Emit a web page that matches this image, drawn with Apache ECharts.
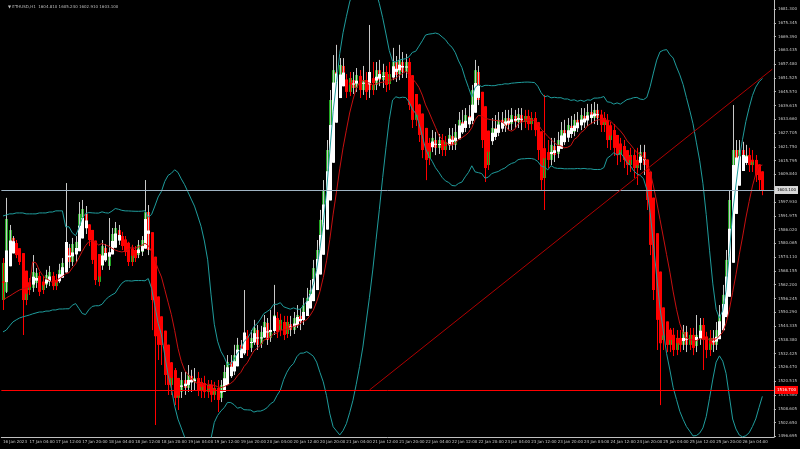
<!DOCTYPE html>
<html><head><meta charset="utf-8">
<script src="https://cdn.jsdelivr.net/npm/echarts@6/dist/echarts.min.js"></script>
<style>html,body{margin:0;padding:0;background:#000}#c{width:800px;height:449px}</style>
</head><body><div id="c"></div>
<script>
const opens=[1555.6,1559.1,1576.3,1582.4,1580.2,1575.0,1572.9,1555.6,1559.9,1560.8,
1562.9,1566.0,1559.9,1562.1,1563.4,1566.0,1561.6,1564.2,1567.7,1569.4,
1578.1,1572.0,1576.3,1580.7,1585.8,1592.8,1585.8,1580.2,1575.0,1563.4,
1570.3,1578.1,1570.3,1577.2,1581.5,1585.8,1583.2,1581.5,1578.9,1572.0,
1577.2,1575.0,1576.3,1581.5,1593.6,1577.2,1555.6,1542.6,1536.2,1538.3,
1523.2,1518.9,1524.5,1513.3,1515.9,1521.0,1517.6,1522.8,1520.2,1521.9,
1516.7,1519.7,1515.9,1518.9,1514.6,1517.6,1513.3,1518.4,1523.6,1528.8,
1525.4,1531.4,1536.2,1534.0,1540.0,1534.9,1538.3,1542.6,1536.6,1540.9,
1545.7,1539.2,1542.6,1547.8,1542.6,1546.1,1540.9,1545.2,1542.6,1547.0,
1548.7,1547.0,1553.0,1555.6,1559.1,1568.6,1576.3,1589.3,1601.0,1619.5,
1642.0,1654.1,1648.5,1656.7,1650.6,1645.5,1650.6,1647.2,1652.4,1646.3,
1650.6,1652.8,1646.3,1648.5,1654.9,1650.6,1654.1,1648.9,1652.8,1658.4,
1653.2,1658.4,1654.1,1658.4,1639.8,1633.4,1637.7,1626.9,1620.4,1616.9,
1622.1,1624.7,1621.3,1624.7,1620.4,1623.9,1626.4,1622.6,1628.2,1632.5,
1629.9,1635.1,1633.4,1646.3,1654.1,1642.0,1624.7,1613.9,1624.7,1629.9,
1629.0,1633.4,1630.8,1634.2,1631.6,1635.1,1632.5,1635.5,1632.5,1635.1,
1631.6,1634.2,1629.0,1620.4,1608.3,1619.5,1616.1,1622.1,1618.7,1623.9,
1629.0,1626.4,1630.8,1628.2,1633.4,1631.2,1635.1,1633.4,1636.8,1634.2,
1637.7,1634.2,1631.2,1633.4,1624.7,1629.0,1621.3,1618.2,1622.1,1616.1,
1613.9,1618.2,1612.6,1616.1,1619.5,1613.9,1598.8,1579.4,1559.9,1547.8,
1538.3,1542.6,1536.2,1540.5,1534.0,1539.2,1536.2,1541.8,1536.2,1540.5,
1535.7,1540.5,1544.8,1538.3,1534.0,1539.2,1536.2,1542.6,1548.7,1557.3,
1572.9,1598.8,1620.4,1613.9,1620.4,1616.1,1618.2,1613.9,1616.1,1609.6,1607.4];
const closes=[1571.6,1590.6,1585.8,1580.2,1575.0,1572.0,1555.6,1559.9,1562.1,1567.7,
1567.3,1559.1,1563.4,1566.4,1567.7,1561.6,1564.2,1568.6,1571.6,1579.4,
1572.0,1579.8,1580.7,1592.8,1594.9,1586.7,1581.5,1572.9,1564.2,1567.7,
1578.9,1573.7,1575.0,1584.1,1586.7,1581.5,1578.9,1576.3,1572.0,1577.2,
1573.7,1579.4,1581.5,1593.6,1577.2,1555.6,1542.6,1536.2,1538.3,1523.2,
1518.9,1525.4,1513.3,1516.7,1521.0,1517.6,1523.2,1520.2,1521.9,1516.7,
1520.2,1515.9,1518.9,1514.6,1517.6,1512.4,1518.9,1524.5,1528.8,1524.5,
1531.8,1536.2,1533.1,1540.5,1534.0,1539.2,1543.5,1536.2,1541.8,1546.1,
1538.3,1542.6,1549.1,1541.8,1547.0,1540.5,1546.1,1542.6,1547.8,1549.1,
1546.1,1553.4,1556.5,1559.9,1569.4,1577.2,1590.2,1603.1,1620.4,1642.0,
1654.9,1648.5,1657.1,1650.6,1645.5,1651.5,1647.2,1652.8,1646.3,1650.6,
1645.5,1646.3,1648.5,1654.9,1650.6,1654.1,1648.5,1653.2,1658.4,1652.8,
1659.3,1654.1,1658.4,1639.8,1633.4,1637.7,1626.9,1620.4,1616.1,1622.6,
1625.6,1621.3,1624.7,1620.4,1623.9,1626.9,1622.6,1628.2,1633.4,1629.9,
1635.5,1633.4,1646.3,1654.9,1642.0,1624.7,1612.6,1624.7,1629.9,1628.2,
1633.4,1630.8,1634.2,1631.2,1635.5,1632.5,1635.9,1632.5,1635.1,1631.6,
1634.2,1629.0,1620.4,1607.4,1620.4,1616.1,1622.6,1618.2,1624.7,1629.0,
1625.6,1631.2,1628.2,1633.4,1630.8,1635.5,1632.5,1636.8,1634.2,1637.7,
1634.2,1631.2,1633.4,1624.7,1629.0,1621.3,1618.2,1622.6,1616.1,1613.9,
1618.2,1612.6,1616.1,1619.5,1613.9,1598.8,1579.4,1559.9,1547.0,1538.3,
1542.6,1536.2,1540.5,1534.0,1539.2,1536.2,1541.8,1536.2,1540.5,1534.9,
1540.5,1544.8,1538.3,1534.0,1539.2,1536.2,1542.6,1549.1,1557.8,1572.9,
1598.8,1620.4,1613.9,1620.4,1616.1,1618.2,1613.9,1616.1,1609.6,1607.4,1603.1];
const highs=[1573.7,1599.7,1588.0,1583.2,1581.5,1577.2,1573.7,1564.2,1565.1,1575.0,
1569.4,1567.7,1566.0,1568.6,1570.3,1567.7,1566.8,1571.2,1573.7,1606.1,
1579.8,1582.4,1583.2,1597.9,1598.8,1596.2,1587.6,1582.4,1577.2,1570.3,
1581.5,1579.8,1591.0,1586.7,1589.3,1588.0,1585.0,1583.2,1580.7,1579.4,
1578.9,1581.5,1583.2,1607.4,1596.6,1579.4,1559.9,1551.3,1542.6,1540.5,
1527.5,1528.8,1526.2,1518.9,1524.5,1524.5,1527.5,1525.4,1526.2,1524.5,
1521.9,1522.8,1521.0,1521.0,1520.2,1521.0,1521.0,1527.5,1531.8,1531.8,
1536.2,1539.2,1538.3,1559.9,1542.6,1542.6,1547.0,1544.8,1544.4,1549.1,
1547.8,1551.3,1562.1,1550.4,1549.6,1548.7,1548.7,1548.7,1550.4,1553.4,
1552.1,1556.5,1560.8,1564.2,1572.9,1581.5,1594.5,1607.4,1624.7,1646.3,
1661.4,1665.8,1660.1,1660.1,1653.2,1654.1,1654.1,1655.8,1654.9,1656.7,
1654.1,1674.4,1658.4,1658.4,1659.3,1657.6,1656.7,1658.4,1664.5,1661.0,
1665.8,1662.7,1661.9,1660.1,1642.9,1640.3,1640.3,1630.8,1623.9,1625.6,
1629.0,1628.2,1627.3,1627.3,1626.4,1629.9,1629.9,1631.6,1636.8,1637.7,
1638.5,1639.8,1648.5,1659.3,1656.7,1644.2,1629.0,1628.2,1634.2,1635.5,
1636.8,1636.8,1637.7,1637.7,1638.5,1637.7,1638.5,1638.5,1637.7,1637.7,
1636.8,1636.8,1632.5,1624.7,1644.2,1624.7,1625.6,1625.6,1628.2,1632.5,
1633.4,1634.2,1635.1,1635.9,1636.8,1638.5,1638.5,1640.3,1640.3,1641.1,
1640.3,1637.7,1636.8,1635.9,1632.5,1631.6,1624.7,1625.6,1624.7,1620.4,
1621.3,1620.4,1621.3,1622.6,1622.6,1616.1,1601.0,1581.5,1564.2,1551.3,
1546.1,1544.8,1543.5,1543.5,1542.6,1542.6,1544.8,1544.4,1543.5,1543.5,
1549.1,1547.8,1547.8,1541.8,1542.6,1542.6,1546.1,1553.4,1562.1,1577.2,
1603.1,1639.8,1624.7,1624.7,1623.9,1622.6,1621.3,1620.4,1618.2,1612.6,1610.9];
const lows=[1551.3,1558.6,1575.0,1578.1,1573.7,1570.7,1540.5,1553.4,1557.8,1559.1,
1560.8,1557.3,1558.2,1560.8,1561.6,1559.9,1559.9,1562.9,1566.0,1567.7,
1569.4,1570.3,1572.0,1579.4,1584.5,1584.1,1578.9,1571.2,1562.1,1561.6,
1568.6,1572.0,1568.6,1576.3,1579.8,1579.4,1577.2,1574.6,1570.3,1570.3,
1572.0,1573.7,1574.6,1579.8,1575.0,1542.6,1501.6,1529.7,1527.5,1518.9,
1514.6,1514.6,1510.2,1508.1,1513.3,1514.6,1515.9,1515.9,1516.7,1514.1,
1513.3,1513.3,1513.3,1511.5,1512.4,1507.2,1511.5,1516.7,1521.9,1521.9,
1523.2,1529.7,1530.5,1531.8,1531.4,1533.1,1536.2,1534.0,1534.9,1539.2,
1536.2,1537.5,1540.5,1539.2,1540.0,1538.3,1539.2,1540.0,1540.9,1543.5,
1542.6,1544.8,1550.4,1553.4,1557.3,1566.0,1573.7,1587.6,1598.8,1616.9,
1639.8,1645.5,1646.3,1648.0,1642.9,1643.7,1644.6,1645.5,1642.9,1644.2,
1642.0,1642.9,1644.2,1646.3,1648.0,1647.2,1645.5,1646.3,1650.6,1649.8,
1650.6,1651.5,1651.5,1637.7,1629.9,1630.8,1623.9,1616.9,1607.4,1613.9,
1619.5,1618.2,1618.7,1617.8,1617.8,1620.4,1620.4,1620.4,1625.6,1627.3,
1628.2,1629.9,1631.6,1636.8,1639.8,1621.3,1606.6,1611.8,1622.6,1624.7,
1626.4,1628.2,1628.2,1629.0,1629.0,1629.9,1629.9,1629.0,1629.9,1629.0,
1629.0,1626.4,1616.1,1603.1,1594.5,1612.6,1613.9,1615.2,1616.9,1621.3,
1622.6,1623.9,1625.6,1626.4,1628.2,1629.0,1629.9,1630.8,1631.6,1631.6,
1631.2,1628.2,1628.2,1621.3,1620.4,1617.8,1613.9,1615.2,1612.6,1609.6,
1610.9,1608.3,1605.3,1611.8,1609.6,1594.5,1575.0,1555.6,1534.0,1510.2,
1534.0,1533.1,1533.1,1531.4,1531.8,1533.1,1534.0,1533.1,1534.0,1531.8,
1533.1,1536.2,1525.4,1530.5,1531.4,1533.1,1534.0,1540.5,1547.0,1555.6,
1570.7,1596.6,1609.6,1611.8,1612.6,1613.9,1610.9,1610.9,1606.6,1603.1,1600.9];
// band / average values at the left edge (history before the first bar)
const upperLead=[1591.9,1592.3,1592.8,1592.8,1593.2,1593.2,1593.2,1592.8,1592.8,1592.8,1592.8,1593.2,1593.2,1593.2,1593.6,1593.6,1594.1,1594.1,1594.1];
const lowerLead=[1541.8,1542.6,1544.4,1546.1,1547.0,1547.8,1548.3,1548.7,1549.1,1549.6,1550.0,1550.4,1550.4,1550.8,1550.8,1551.3,1551.3,1551.7,1551.7];
const maLead=[1555.6,1556.5,1557.3,1558.2,1559.1,1559.9,1560.4,1560.8,1561.2];
const xTickLabels=['16 Jan 2023','17 Jan 04:00','17 Jan 12:00','17 Jan 20:00','18 Jan 04:00','18 Jan 12:00','18 Jan 20:00',
'19 Jan 04:00','19 Jan 12:00','19 Jan 20:00','20 Jan 04:00','20 Jan 12:00','20 Jan 20:00','21 Jan 04:00','21 Jan 12:00',
'21 Jan 20:00','22 Jan 04:00','22 Jan 12:00','22 Jan 20:00','23 Jan 04:00','23 Jan 12:00','23 Jan 20:00','24 Jan 04:00',
'24 Jan 12:00','24 Jan 20:00','25 Jan 04:00','25 Jan 12:00','25 Jan 20:00','26 Jan 04:00'];
const yTickValues=[1681.300,1675.345,1669.390,1663.435,1657.480,1651.525,1645.570,1639.615,1633.660,1627.705,
1621.750,1615.795,1609.840,1603.885,1597.930,1591.975,1586.020,1580.065,1574.110,1568.155,1562.200,1556.245,
1550.290,1544.335,1538.380,1532.425,1526.470,1520.515,1514.560,1508.605,1502.650,1496.695];
const supportLevel=1516.7;
const trendStart=[111,1516.7], trendEnd=[233,1655.3];
const headerText='\u25BC ETHUSD,H1  1604.810 1605.240 1602.910 1603.100';
const bbPeriod=20, bbDev=2, maPeriod=10;

const nCat=234;
const cats=[]; for(let i=0;i<nCat;i++) cats.push(String(i));
const candleData=opens.map((o,i)=>[i,o,closes[i],lows[i],highs[i]]);
// Heiken Ashi overlay derived from the candles
const haData=[]; let hO=(opens[0]+closes[0])/2, hC=(opens[0]+highs[0]+lows[0]+closes[0])/4;
for(let i=0;i<opens.length;i++){
  if(i>0){const nO=(hO+hC)/2; hC=(opens[i]+highs[i]+lows[i]+closes[i])/4; hO=nO;}
  haData.push([i,+hO.toFixed(2),+hC.toFixed(2),+Math.min(lows[i],hO,hC).toFixed(2),+Math.max(highs[i],hO,hC).toFixed(2)]);
}
const upper=[],lower=[],ma=[];
for(let i=0;i<closes.length;i++){
  if(i<bbPeriod-1){upper.push(upperLead[i]);lower.push(lowerLead[i]);}
  else{let s=0;for(let k=i-bbPeriod+1;k<=i;k++)s+=closes[k];const m=s/bbPeriod;let v=0;for(let k=i-bbPeriod+1;k<=i;k++)v+=(closes[k]-m)**2;const sd=Math.sqrt(v/bbPeriod);upper.push(+(m+bbDev*sd).toFixed(2));lower.push(+(m-bbDev*sd).toFixed(2));}
  if(i<maPeriod-1) ma.push(maLead[i]); else {let s=0;for(let k=i-maPeriod+1;k<=i;k++)s+=closes[k];ma.push(+(s/maPeriod).toFixed(2));}
}
const lastClose=closes[closes.length-1];
const FONT='DejaVu Sans';
function makeRender(upBody,upWick,dnBody,dnWick){
  return function(params,api){
    const i=api.value(0),o=api.value(1),c=api.value(2),l=api.value(3),h=api.value(4);
    const pO=api.coord([i,o]),pC=api.coord([i,c]);
    const pL=api.coord([i,Math.min(l,o,c)]),pH=api.coord([i,Math.max(h,o,c)]);
    const x=Math.round(pO[0])+0.5;
    const bull=c>=o;
    const top=Math.min(pO[1],pC[1]),bot=Math.max(pO[1],pC[1]);
    return {type:'group',children:[
      {type:'line',shape:{x1:x,y1:pH[1],x2:x,y2:pL[1]},style:{stroke:bull?upWick:dnWick,lineWidth:1}},
      {type:'rect',shape:{x:x-1.5,y:top,width:3,height:Math.max(1,bot-top)},style:{fill:bull?upBody:dnBody}}
    ]};
  };
}
const chart=echarts.init(document.getElementById('c'),null,{renderer:'canvas'});
chart.setOption({
  backgroundColor:'#000',animation:false,
  title:{text:headerText,left:3,top:0,textStyle:{color:'#bcbcbc',fontSize:4,fontWeight:'normal',fontFamily:FONT}},
  grid:{left:0,right:21,top:0,bottom:12},
  xAxis:{type:'category',data:cats,boundaryGap:true,
    axisLine:{lineStyle:{color:'#c0c0c0',width:1}},
    axisTick:{interval:7,length:3,lineStyle:{color:'#c0c0c0'}},
    axisLabel:{interval:7,align:'left',margin:3,fontSize:4,color:'#c8c8c8',fontFamily:FONT,
      formatter:(v,idx)=>xTickLabels[Math.round(idx/8)]||''},
    splitLine:{show:false}},
  yAxis:{type:'value',position:'right',min:1496.4,max:1685.2,scale:true,
    axisLine:{show:true,lineStyle:{color:'#c0c0c0',width:1}},
    axisTick:{show:true,length:2,customValues:yTickValues,lineStyle:{color:'#c0c0c0'}},
    axisLabel:{customValues:yTickValues,margin:4,fontSize:4,color:'#c8c8c8',fontFamily:FONT,formatter:v=>v.toFixed(3)},
    splitLine:{show:false}},
  series:[
    {type:'custom',name:'price',data:candleData,encode:{x:0,y:[1,2,3,4]},z:3,
     renderItem:makeRender('#22a822','#22a822','#ff0000','#ff0000')},
    {type:'custom',name:'heikenAshi',data:haData,encode:{x:0,y:[1,2,3,4]},z:3,
     renderItem:makeRender('#ffffff','#c8c8c8','#ff0000','#ff0000')},
    {type:'line',name:'bbUpper',data:upper,showSymbol:false,lineStyle:{color:'#1f9c9c',width:1},z:4},
    {type:'line',name:'bbLower',data:lower,showSymbol:false,lineStyle:{color:'#1f9c9c',width:1},z:4},
    {type:'line',name:'ma',data:ma,showSymbol:false,lineStyle:{color:'#c81010',width:1},z:4,
     markLine:{symbol:'none',silent:true,animation:false,
       data:[
        {yAxis:lastClose,lineStyle:{color:'#9fb4c4',width:1,type:'solid'},
         label:{show:true,position:'end',formatter:lastClose.toFixed(3),backgroundColor:'#d8d8d8',color:'#000',fontSize:4,padding:[2,2],distance:1,fontFamily:FONT}},
        {yAxis:supportLevel,lineStyle:{color:'#ff0000',width:1,type:'solid'},
         label:{show:true,position:'end',formatter:supportLevel.toFixed(3),backgroundColor:'#ff0000',color:'#fff',fontSize:4,padding:[2,2],distance:1,fontFamily:FONT}},
        [{coord:[String(trendStart[0]),trendStart[1]],lineStyle:{color:'#b00000',width:1,type:'solid'},label:{show:false}},
         {coord:[String(trendEnd[0]),trendEnd[1]]}]
       ]}}
  ]
});
</script></body></html>
